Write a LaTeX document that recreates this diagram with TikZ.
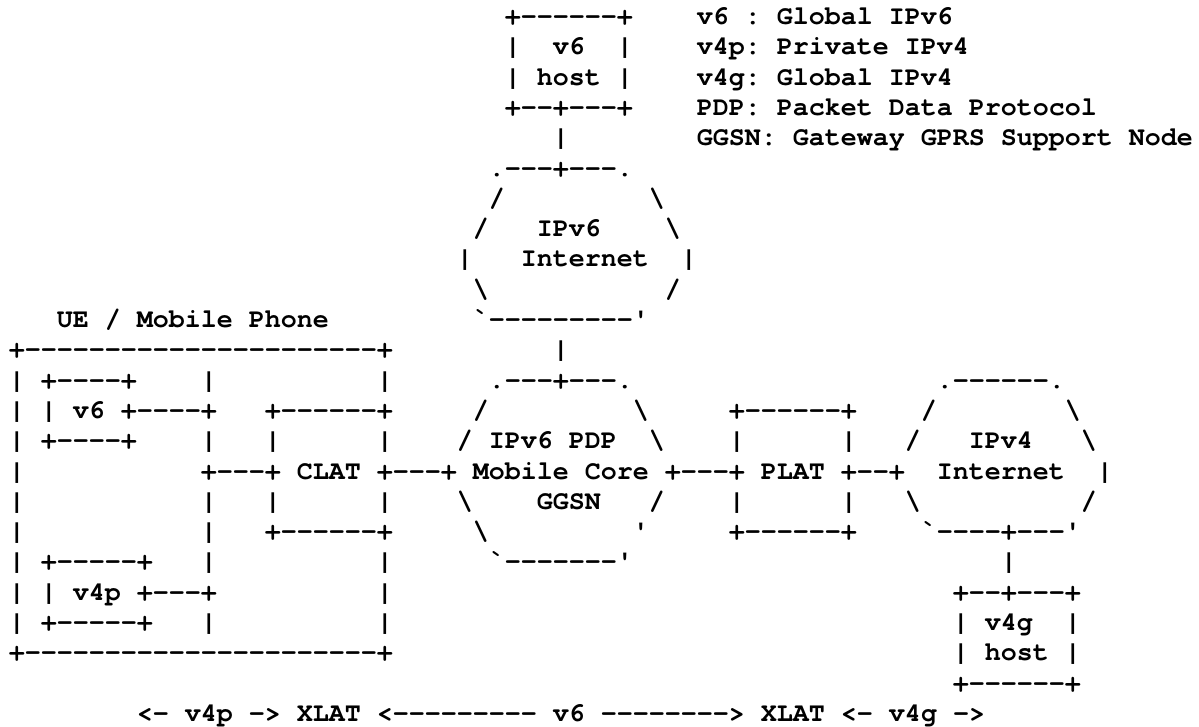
\documentclass[tikz,border=0pt]{standalone}
\usepackage{fontspec}
\setmonofont{texgyrecursor}[Extension=.otf,UprightFont=*-regular,BoldFont=*-bold]
\tikzset{ascii/.style={inner sep=0pt,anchor=base west,font=\ttfamily\bfseries\fontsize{26.67pt}{30.3pt}\selectfont}}

\begin{document}
\frenchspacing
\begin{tikzpicture}
  \useasboundingbox (0,0) rectangle (1199pt,-726pt);

  \begin{scope}[x=16pt,y=-30.3pt,shift={(8.7pt,5.8pt)}]
  \node[ascii] (hosttop) at (31,1) {+------+};
  \node[ascii] (hostl) at (31,2) {|};
  \node[ascii] (hostvsix) at (34,2) {v6};
  \node[ascii] (hostr) at (38,2) {|};
  \node[ascii] (hostname) at (31,3) {| host |};
  \node[ascii] (hostbot) at (31,4) {+--+---+};
  \node[ascii] (hostlink) at (34,5) {|};

  \node[ascii] (legone) at (43,1) {v6 : Global IPv6};
  \node[ascii] (legtwo) at (43,2) {v4p: Private IPv4};
  \node[ascii] (legthree) at (43,3) {v4g: Global IPv4};
  \node[ascii] (legfour) at (43,4) {PDP: Packet Data Protocol};
  \node[ascii] (legfive) at (43,5) {GGSN: Gateway GPRS Support Node};

  \node[ascii] (netsixtop) at (30,6) {.---+---.};
  \node[ascii] (netsixa) at (30,7) {/};
  \node[ascii] (netsixb) at (40,7) {\textbackslash};
  \node[ascii] (netsixc) at (29,8) {/};
  \node[ascii] (netsixlabel) at (33,8) {IPv6};
  \node[ascii] (netsixd) at (41,8) {\textbackslash};
  \node[ascii] (netsixe) at (28,9) {|};
  \node[ascii] (netsixname) at (32,9) {Internet};
  \node[ascii] (netsixf) at (42,9) {|};
  \node[ascii] (netsixg) at (29,10) {\textbackslash};
  \node[ascii] (netsixh) at (41,10) {/};
  \node[ascii] (netsixbot) at (29,11) {`---------'};
  \node[ascii] (netsixlink) at (34,12) {|};

  \node[ascii] (uename) at (3,11) {UE / Mobile Phone};
  \node[ascii] (uetop) at (0,12) {+----------------------+};
  \node[ascii] (uea) at (0,13) {| +----+};
  \node[ascii] (ueb) at (12,13) {|};
  \node[ascii] (uec) at (23,13) {|};
  \node[ascii] (v6box) at (0,14) {| | v6 +----+};
  \node[ascii] (ued) at (0,15) {| +----+};
  \node[ascii] (uee) at (12,15) {|};
  \node[ascii] (clata) at (16,15) {|};
  \node[ascii] (uef) at (23,15) {|};
  \node[ascii] (ueg) at (0,16) {|};
  \node[ascii] (ueh) at (0,17) {|};
  \node[ascii] (uei) at (12,17) {|};
  \node[ascii] (clatb) at (16,17) {|};
  \node[ascii] (uej) at (23,17) {|};
  \node[ascii] (uek) at (0,18) {|};
  \node[ascii] (uel) at (12,18) {|};
  \node[ascii] (clatbot) at (16,18) {+------+};
  \node[ascii] (uem) at (0,19) {| +-----+};
  \node[ascii] (uen) at (12,19) {|};
  \node[ascii] (ueo) at (23,19) {|};
  \node[ascii] (v4pbox) at (0,20) {| | v4p +---+};
  \node[ascii] (uep) at (23,20) {|};
  \node[ascii] (ueq) at (0,21) {| +-----+};
  \node[ascii] (uer) at (12,21) {|};
  \node[ascii] (ues) at (23,21) {|};
  \node[ascii] (uebot) at (0,22) {+----------------------+};

  \node[ascii] (clattop) at (16,14) {+------+};
  \node[ascii] (chain) at (12,16) {+---+ CLAT +---+ Mobile Core +---+ PLAT +--+};

  \node[ascii] (coretop) at (30,13) {.---+---.};
  \node[ascii] (corea) at (29,14) {/};
  \node[ascii] (coreb) at (39,14) {\textbackslash};
  \node[ascii] (corelabel) at (28,15) {/ IPv6 PDP};
  \node[ascii] (corec) at (40,15) {\textbackslash};
  \node[ascii] (cored) at (28,17) {\textbackslash};
  \node[ascii] (coreggsn) at (33,17) {GGSN};
  \node[ascii] (coree) at (40,17) {/};
  \node[ascii] (coref) at (29,18) {\textbackslash};
  \node[ascii] (coreg) at (39,18) {'};
  \node[ascii] (corebot) at (30,19) {`-------'};

  \node[ascii] (plattop) at (45,14) {+------+};
  \node[ascii] (plata) at (45,15) {|};
  \node[ascii] (platb) at (52,15) {|};
  \node[ascii] (platc) at (45,17) {|};
  \node[ascii] (platd) at (52,17) {|};
  \node[ascii] (platbot) at (45,18) {+------+};

  \node[ascii] (netfourtop) at (58,13) {.------.};
  \node[ascii] (netfoura) at (57,14) {/};
  \node[ascii] (netfourb) at (66,14) {\textbackslash};
  \node[ascii] (netfourc) at (56,15) {/};
  \node[ascii] (netfourlabel) at (60,15) {IPv4};
  \node[ascii] (netfourd) at (67,15) {\textbackslash};
  \node[ascii] (netfourname) at (58,16) {Internet};
  \node[ascii] (netfoure) at (68,16) {|};
  \node[ascii] (netfourf) at (56,17) {\textbackslash};
  \node[ascii] (netfourg) at (67,17) {/};
  \node[ascii] (netfourbot) at (57,18) {`----+---'};
  \node[ascii] (netfourlink) at (62,19) {|};

  \node[ascii] (gtop) at (59,20) {+--+---+};
  \node[ascii] (gname) at (59,21) {| v4g};
  \node[ascii] (gr) at (66,21) {|};
  \node[ascii] (ghost) at (59,22) {| host |};
  \node[ascii] (gbot) at (59,23) {+------+};

  \node[ascii] (xlat) at (8,24) {<- v4p -> XLAT <--------- v6 --------> XLAT <- v4g ->};
  \end{scope}
\end{tikzpicture}
\end{document}
